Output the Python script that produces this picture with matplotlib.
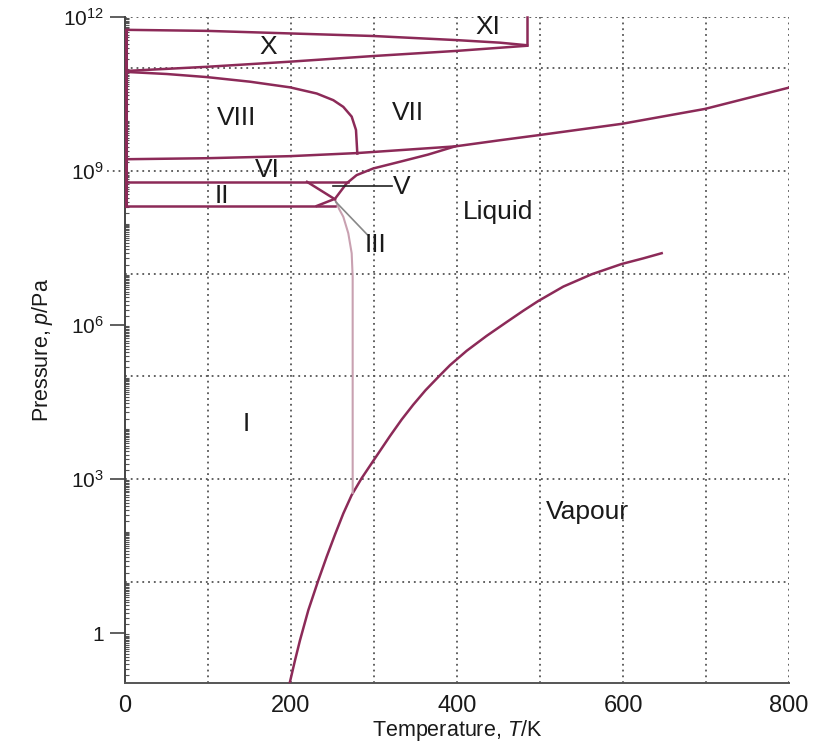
import numpy as np
import matplotlib
matplotlib.use('Agg')
import matplotlib.pyplot as plt
from matplotlib import font_manager as fm
from matplotlib.ticker import FixedLocator, LogLocator, NullFormatter

names = {f.name for f in fm.fontManager.ttflist}
fam = 'Liberation Sans Narrow' if 'Liberation Sans Narrow' in names else 'Liberation Sans'
plt.rcParams['font.family'] = [fam, 'DejaVu Sans']
plt.rcParams['mathtext.fontset'] = 'custom'
plt.rcParams['mathtext.rm'] = fam
plt.rcParams['mathtext.it'] = fam + ':italic'

# ---------------- data (T in K, log10 of p in Pa) ----------------
vap_T = [198.0, 204.8, 210.8, 220.9, 232.9, 243.0, 253.0, 263.0, 273.1, 285.2,
         297.2, 307.2, 319.3, 333.3, 347.3, 362.0, 377.5, 391.6, 411.7, 435.7,
         459.9, 479.9, 498.0, 528.1, 562.3, 598.4, 624.5, 646.6]
vap_logp = [-1.0, -0.53, -0.14, 0.45, 1.03, 1.49, 1.92, 2.33, 2.69, 3.02,
            3.31, 3.55, 3.84, 4.16, 4.45, 4.73, 4.99, 5.22, 5.50, 5.79,
            6.06, 6.28, 6.47, 6.75, 6.99, 7.19, 7.30, 7.40]

meltI_T = [253.0, 258.0, 263.0, 269.0, 273.1, 274.3, 274.3]
meltI_logp = [8.45, 8.26, 8.11, 7.79, 7.40, 6.94, 2.73]

liq_T = [231.0, 253.0, 267.0, 279.0, 299.0, 331.0, 365.0, 397.6]
liq_logp = [8.32, 8.46, 8.76, 8.92, 9.05, 9.18, 9.32, 9.48]

vi_T = [0.0, 98.8, 198.8, 279.5, 397.6, 451.8, 498.8, 598.8, 698.8, 798.8]
vi_logp = [9.23, 9.25, 9.29, 9.35, 9.48, 9.60, 9.70, 9.92, 10.21, 10.62]

viii_T = [2.0, 50.2, 98.4, 150.6, 198.8, 231.0, 251.0, 263.0, 273.1, 278.3, 279.9]
viii_logp = [10.93, 10.89, 10.83, 10.74, 10.63, 10.51, 10.38, 10.25, 10.06, 9.80, 9.34]

xup_T = [2.0, 98.4, 198.8, 299.2, 399.6, 451.8, 484.3]
xup_logp = [11.75, 11.73, 11.68, 11.63, 11.55, 11.50, 11.45]
xlo_T = [2.0, 98.4, 198.8, 299.2, 399.6, 484.3]
xlo_logp = [10.95, 11.03, 11.13, 11.24, 11.34, 11.44]

xi_T = [484.3, 484.3]
xi_logp = [11.45, 12.0]

left_T = [1.0, 1.0]
left_logp = [8.32, 11.75]

iiup_T = [0.0, 269.0]
iiup_logp = [8.79, 8.79]
iilo_T = [0.0, 253.0]
iilo_logp = [8.32, 8.32]
iiv_T = [219.3, 253.0]
iiv_logp = [8.79, 8.45]

labels = ['XI', 'X', 'VIII', 'VII', 'VI', 'V', 'II', 'Liquid', 'III', 'I', 'Vapour']
label_T = [437, 172, 134, 341, 172, 333, 117, 449, 302, 146, 557]
label_logp = [11.81, 11.42, 10.03, 10.13, 9.02, 8.69, 8.51, 8.20, 7.56, 4.07, 2.36]

xticks = [0, 200, 400, 600, 800]
yticks_exp = [0, 3, 6, 9, 12]
grid_T = [100, 200, 300, 400, 500, 600, 700, 800]
grid_exp = [1, 3, 5, 7, 9, 11, 12]

# ---------------- figure ----------------
W, H = 823, 744
fig = plt.figure(figsize=(W / 100, H / 100), dpi=100)
ax = fig.add_axes([125 / W, 1 - 683 / H, (789 - 125) / W, (683 - 17) / H])
ax.set_yscale('log')
ax.set_xlim(0, 800)
ax.set_ylim(10 ** -0.97, 1e12)

gc = '#555555'
for t in grid_T:
    ax.axvline(t, color=gc, ls=(0, (1, 2.2)), lw=1.3, zorder=1)
for e in grid_exp:
    ax.axhline(10.0 ** e, color=gc, ls=(0, (1, 2.2)), lw=1.3, zorder=1)
# dotted extension of the 10^9 line to the left of the axis
ax.plot([-22, 0], [1e9, 1e9], color=gc, ls=(0, (1, 2.2)), lw=1.3, clip_on=False)

main = '#8c2a58'
light = '#c9a1b1'
lw = 1.8

def P(lp):
    return 10.0 ** np.asarray(lp)

ax.plot(vap_T, P(vap_logp), color=main, lw=lw, zorder=3)
ax.plot(meltI_T, P(meltI_logp), color=light, lw=1.5, zorder=3)
ax.plot(liq_T, P(liq_logp), color=main, lw=lw, zorder=3)
ax.plot(vi_T, P(vi_logp), color=main, lw=lw, zorder=3)
ax.plot(viii_T, P(viii_logp), color=main, lw=lw, zorder=3)
ax.plot(xup_T, P(xup_logp), color=main, lw=lw, zorder=3)
ax.plot(xlo_T, P(xlo_logp), color=main, lw=lw, zorder=3)
ax.plot(xi_T, P(xi_logp), color=main, lw=lw, zorder=3, clip_on=False)
ax.plot(left_T, P(left_logp), color=main, lw=2.2, zorder=4, clip_on=False)
ax.plot(iiup_T, P(iiup_logp), color=main, lw=lw, zorder=3)
ax.plot(iilo_T, P(iilo_logp), color=main, lw=lw, zorder=3)
ax.plot(iiv_T, P(iiv_logp), color=main, lw=lw, zorder=3)

# pointer lines for V and III
ax.plot([251, 322], [10 ** 8.70, 10 ** 8.70], color='#222222', lw=1.2, zorder=3)
ax.plot([254, 292], [10 ** 8.40, 10 ** 7.76], color='#888888', lw=1.2, zorder=3)

for s, t, lp in zip(labels, label_T, label_logp):
    ax.text(t, 10.0 ** lp, s, ha='center', va='center', fontsize=19, color='#1a1a1a', zorder=5)

# axes styling
for side in ['top', 'right']:
    ax.spines[side].set_visible(False)
ax.spines['left'].set_color('#444444')
ax.spines['bottom'].set_color('#555555')
ax.spines['left'].set_linewidth(1.4)
ax.spines['bottom'].set_linewidth(1.4)

ax.set_xticks(xticks)
ax.set_xticklabels([str(v) for v in xticks])
ax.tick_params(axis='x', length=0, pad=9, labelsize=17, labelcolor='#1a1a1a')

ax.yaxis.set_major_locator(FixedLocator([10.0 ** e for e in yticks_exp]))
ax.set_yticklabels(['1' if e == 0 else r'$10^{%d}$' % e for e in yticks_exp])
ax.yaxis.set_minor_locator(LogLocator(base=10, subs=np.arange(1.5, 10, 0.5), numticks=200))
ax.yaxis.set_minor_formatter(NullFormatter())
ax.tick_params(axis='y', which='major', direction='out', length=11, width=1.2,
               color='#444444', pad=4, labelsize=15, labelcolor='#1a1a1a')
ax.tick_params(axis='y', which='minor', direction='in', length=3, width=0.8, color='#555555')
for tk in ax.yaxis.get_major_ticks():
    if abs(np.log10(tk.get_loc()) - 9) < 1e-6:
        tk.tick1line.set_visible(False)

ax.set_xlabel(r'Temperature, $\it{T}$/K', fontsize=15.5, color='#1a1a1a')
ax.xaxis.set_label_coords(0.5, -0.052)
ax.set_ylabel(r'Pressure, $\it{p}$/Pa', fontsize=15.5, color='#1a1a1a')
ax.yaxis.set_label_coords(-0.105, 0.5)

fig.savefig('out.png', dpi=100)
